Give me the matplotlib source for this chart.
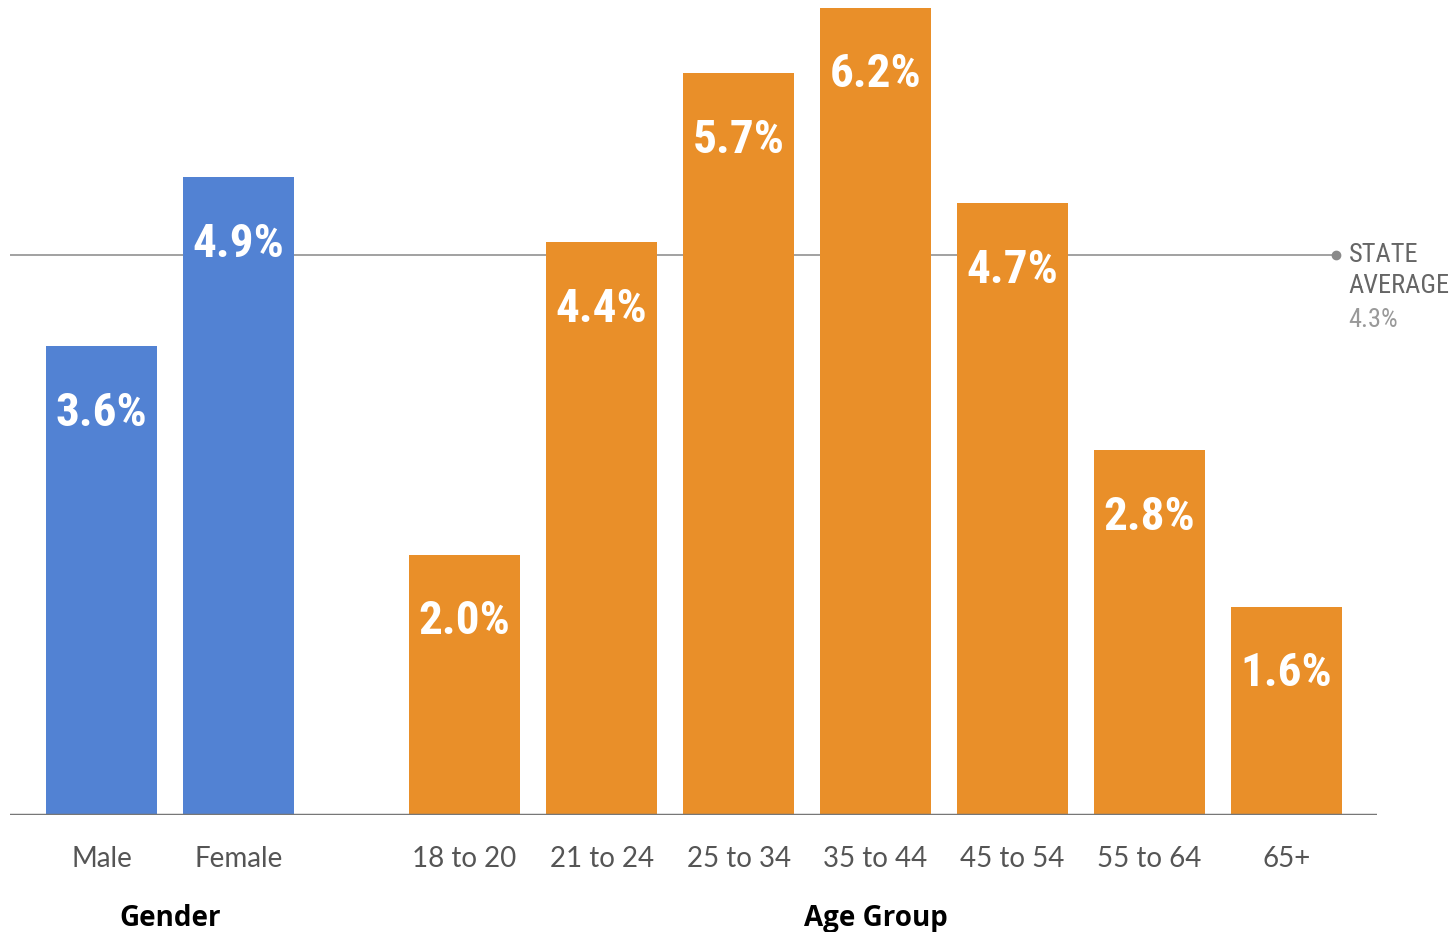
import matplotlib.pyplot as plt

# --- data ---
gender_labels = ["Male", "Female"]
gender_values = [3.6, 4.9]
age_labels = ["18 to 20", "21 to 24", "25 to 34", "35 to 44", "45 to 54", "55 to 64", "65+"]
age_values = [2.0, 4.4, 5.7, 6.2, 4.7, 2.8, 1.6]
state_average = 4.3

blue = "#5282d3"
orange = "#e98f29"
narrow = ["Roboto Condensed", "Roboto", "DejaVu Sans"]

W, H = 1450, 932
fig = plt.figure(figsize=(W / 100, H / 100), dpi=100)
# axes placed in pixel terms: x from 10 to 1377, baseline at 815 from top
ax = fig.add_axes([10 / W, (H - 815) / H, (1377 - 10) / W, 815 / H])

gender_x = [0, 1]
age_x = [2.65 + i for i in range(len(age_labels))]

ax.bar(gender_x, gender_values, width=0.81, color=blue, zorder=2)
ax.bar(age_x, age_values, width=0.81, color=orange, zorder=2)

ax.set_xlim(-0.668, 9.31)
ax.set_ylim(0, 6.26)

# state average line
x_end = (1336 - 101.5) / 137
ax.plot([-0.668, x_end], [state_average, state_average], color="#9a9a9a", lw=1.3, zorder=1,
        solid_capstyle="butt")
ax.plot([x_end], [state_average], "o", color="#8a8a8a", ms=6, zorder=1, clip_on=False)
for txt, dy, col in [("STATE", 0, "#666666"), ("AVERAGE", -22.5, "#666666"),
                     (f"{state_average}%", -46.5, "#999999")]:
    ax.annotate(txt, xy=(x_end, state_average), xytext=(9, dy), textcoords="offset points",
                ha="left", va="center", fontsize=19, color=col, family=narrow,
                annotation_clip=False)

# value labels inside bars
for xs, vals in [(gender_x, gender_values), (age_x, age_values)]:
    for x, v in zip(xs, vals):
        ax.annotate(f"{v:.1f}%", xy=(x, v), xytext=(0, -48), textcoords="offset points",
                    ha="center", va="center", color="white", fontsize=34, fontweight="bold",
                    family=narrow)

# baseline
ax.axhline(0, color="#777777", lw=2.5, zorder=3)

for s in ax.spines.values():
    s.set_visible(False)
ax.set_yticks([])
ax.set_xticks(gender_x + age_x)
ax.set_xticklabels(gender_labels + age_labels, fontsize=20, color="#555555", family="Lato")
ax.tick_params(axis="x", length=0, pad=22)

# group titles
ax.text(0.5, -0.127, "Gender", transform=ax.get_xaxis_transform(), ha="center", va="center",
        fontsize=20, fontweight="bold", color="black", family="Open Sans")
ax.text((age_x[0] + age_x[-1]) / 2, -0.127, "Age Group", transform=ax.get_xaxis_transform(),
        ha="center", va="center", fontsize=20, fontweight="bold", color="black", family="Open Sans")

fig.savefig("out.png", dpi=100)
